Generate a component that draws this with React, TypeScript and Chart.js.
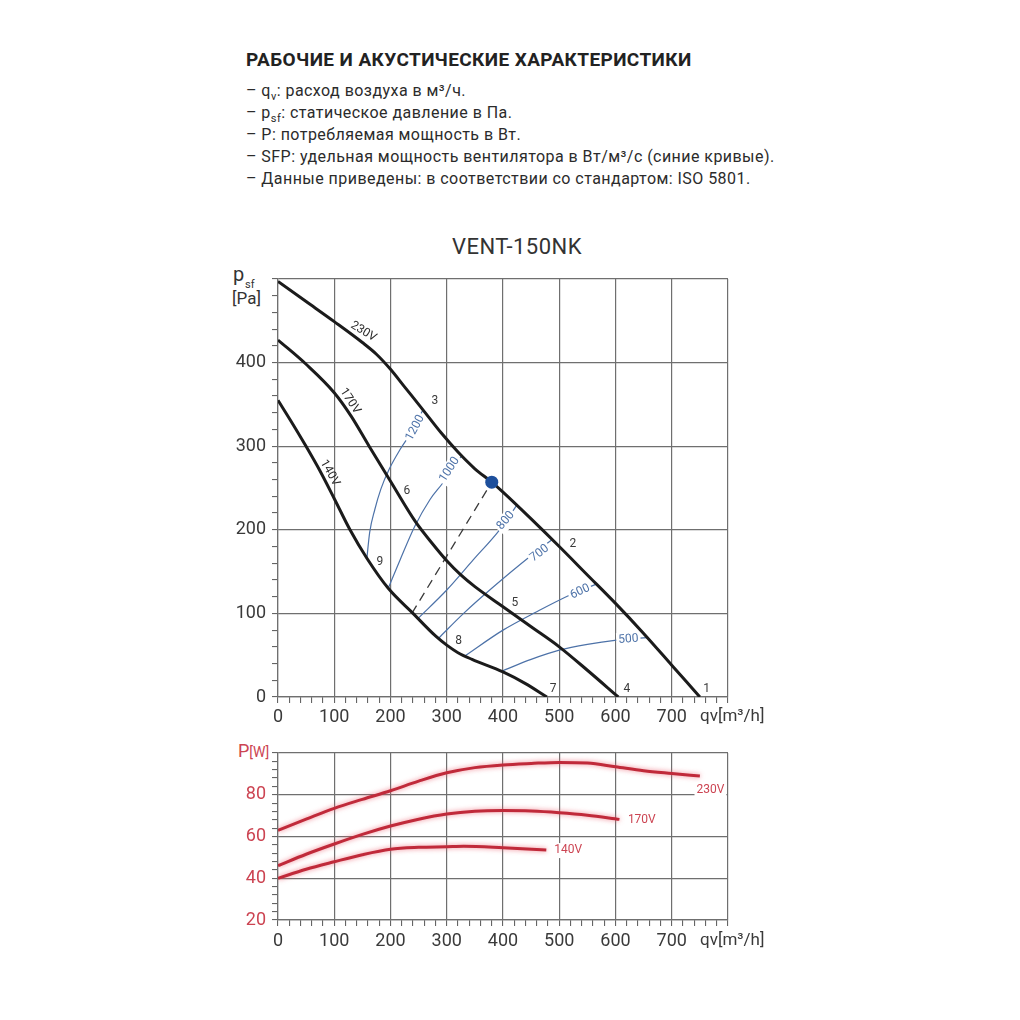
import React, { useEffect, useRef } from "react";
import { Chart, registerables } from "chart.js";

Chart.register(...registerables);

const FONT = "Roboto, 'Noto Sans', 'DejaVu Sans', sans-serif";

// ---------- Top chart: static pressure p_sf [Pa] vs airflow q_v [m³/h] ----------
const q230 = [0, 50, 100, 150, 175, 200, 225, 256, 290, 320, 350, 380, 400, 450, 500, 550, 600, 650, 700, 750];
const ps230 = [497, 473, 449, 424, 410, 392, 371, 345, 316, 293, 273, 257, 245, 213, 180, 146, 112, 76, 38, 0];
const q170 = [0, 50, 100, 130, 162, 200, 244, 275, 300, 325, 350, 400, 450, 500, 550, 605];
const ps170 = [427, 398, 364, 336, 300, 258, 210, 183, 163, 146, 132, 108, 84, 60, 32, 0];
const q140 = [0, 24, 48, 75, 101, 128, 158, 196, 240, 280, 300, 320, 345, 400, 440, 478];
const ps140 = [355, 329, 302, 270, 236, 200, 166, 130, 100, 73, 62, 53, 45, 30, 16, 0];

// SFP iso-lines (blue), W/(m³/s)
const sfp1200Q = [158, 163, 172, 183, 198, 217, 238, 258];
const sfp1200P = [166, 197, 224, 249, 273, 296, 318, 344];
const sfp1000Q = [196, 217, 243, 270, 293, 326];
const sfp1000P = [130, 164, 204, 236, 256, 288];
const sfp800Q = [249, 300, 347, 394, 424];
const sfp800P = [94, 128, 164, 200, 229];
const sfp700Q = [285, 330, 380, 448, 487];
const sfp700P = [70, 100, 130, 168, 188];
const sfp600Q = [332, 400, 460, 519, 566];
const sfp600P = [49, 80, 102, 122, 135];
const sfp500Q = [398, 450, 500, 550, 602, 657];
const sfp500P = [31, 45, 56, 63, 68, 71];

// duty point and its dashed system line
const dutyQ = [380];
const dutyP = [257];
const dashQ = [238, 380];
const dashP = [100, 257];

// tick labels
const flowTickLabels = ["0", "100", "200", "300", "400", "500", "600", "700"];
const flowAxisTitle = "qv[m³/h]";
const pressureTickLabels = ["0", "100", "200", "300", "400"];

// ---------- Bottom chart: power P [W] ----------
const qP230 = [0, 50, 100, 150, 200, 250, 300, 350, 400, 450, 500, 550, 600, 650, 700, 750];
const pw230 = [63, 68.3, 73.5, 77.8, 81.9, 86.5, 90.5, 93, 94.3, 95, 95.5, 95.2, 93.4, 91.5, 90.2, 89];
const qP170 = [0, 50, 100, 150, 200, 250, 300, 350, 400, 450, 500, 550, 607];
const pw170 = [46, 51.5, 56.4, 61, 65, 68.3, 70.8, 72.1, 72.4, 72.2, 71.4, 70.2, 68.2];
const qP140 = [0, 50, 100, 150, 200, 250, 300, 330, 400, 477];
const pw140 = [40, 44.3, 47.9, 51.3, 53.9, 54.8, 55.1, 55.3, 54.6, 53.5];
const powerTickLabels = ["20", "40", "60", "80"];

// ---------- annotations (data units) ----------
type Label = { text: string; x: number; y: number; rot?: number };
const curveLabels: Label[] = [
  { text: "230V", x: 152, y: 437, rot: 31 },
  { text: "170V", x: 128, y: 354, rot: 57 },
  { text: "140V", x: 92, y: 268, rot: 61 },
];
const curveNumbers: Label[] = [
  { text: "3", x: 279, y: 354 },
  { text: "2", x: 524, y: 183 },
  { text: "1", x: 762, y: 10 },
  { text: "6", x: 229, y: 247 },
  { text: "5", x: 421, y: 112 },
  { text: "4", x: 620, y: 10 },
  { text: "9", x: 181, y: 162 },
  { text: "8", x: 321, y: 67 },
  { text: "7", x: 489, y: 10 },
];
const sfpLabels: Label[] = [
  { text: "1200", x: 244, y: 322, rot: -62 },
  { text: "1000", x: 305, y: 272, rot: -57 },
  { text: "800", x: 405, y: 211, rot: -50 },
  { text: "700", x: 465, y: 172, rot: -37 },
  { text: "600", x: 537, y: 126, rot: -25 },
  { text: "500", x: 623, y: 69, rot: -4 },
];
const powerLabels: Label[] = [
  { text: "230V", x: 744, y: 82.4 },
  { text: "170V", x: 622, y: 67.9 },
  { text: "140V", x: 491, y: 53.5 },
];

const pts = (xs: number[], ys: number[]) => xs.map((x, i) => ({ x, y: ys[i] }));

const GRID = "#6f6f6f";
const BLACK = "#1b1b1b";
const BLUE = "#4d72a8";
const RED = "#c02a3a";
const RED_TEXT = "#cc4452";

function drawLabel(
  chart: any,
  l: Label,
  o: { size: number; color: string; align?: CanvasTextAlign; bg?: boolean }
) {
  const ctx = chart.ctx as CanvasRenderingContext2D;
  const px = chart.scales.x.getPixelForValue(l.x);
  const py = chart.scales.y.getPixelForValue(l.y);
  ctx.save();
  ctx.translate(px, py);
  ctx.rotate(((l.rot || 0) * Math.PI) / 180);
  ctx.font = `${o.size}px ${FONT}`;
  ctx.textAlign = o.align || "center";
  ctx.textBaseline = "middle";
  if (o.bg) {
    const w = ctx.measureText(l.text).width;
    const x0 = o.align === "left" ? -2 : -w / 2 - 2;
    ctx.fillStyle = "#ffffff";
    ctx.fillRect(x0, -o.size / 2 - 1, w + 4, o.size + 3);
  }
  ctx.fillStyle = o.color;
  ctx.fillText(l.text, 0, 0);
  ctx.restore();
}

function gridOpts(major: number) {
  return {
    color: (c: any) =>
      Math.abs(Math.round(c.tick.value) % major) === 0 ? GRID : "rgba(0,0,0,0)",
    lineWidth: 1.2,
    tickColor: "#555",
    tickLength: 6,
    tickWidth: 1,
    drawTicks: true,
  };
}

function flowAxis(height: number, padding: number) {
  return {
    type: "linear",
    min: 0,
    max: 800,
    grid: gridOpts(100),
    border: { display: true, color: GRID, width: 1.2 },
    ticks: {
      stepSize: 20,
      autoSkip: false,
      maxRotation: 0,
      minRotation: 0,
      padding,
      color: "#3a3a3a",
      font: (c: any) => ({ family: FONT, size: c.tick && c.tick.value === 800 ? 17 : 18 }),
      callback: (v: number) => {
        if (v === 800) return "  " + flowAxisTitle;
        if (v % 100 === 0) return flowTickLabels[v / 100] ?? "";
        return "";
      },
    },
    afterFit: (s: any) => {
      s.height = height;
      s.paddingLeft = 0;
      s.paddingRight = 0;
    },
  };
}

const topPlugin = {
  id: "topLabels",
  beforeDatasetDraw(chart: any, args: any) {
    const ds = chart.data.datasets[args.index];
    if (ds.label === "duty-line") {
      sfpLabels.forEach((l) => drawLabel(chart, l, { size: 12, color: BLUE, bg: true }));
    }
  },
  afterDatasetsDraw(chart: any) {
    curveLabels.forEach((l) => drawLabel(chart, l, { size: 12, color: "#2a2a2a" }));
    curveNumbers.forEach((l) => drawLabel(chart, l, { size: 12, color: "#3a3a3a" }));
  },
};

const bottomPlugin = {
  id: "bottomLabels",
  beforeDatasetDraw(chart: any) {
    const ctx = chart.ctx;
    ctx.save();
    ctx.shadowColor = "rgba(235,90,105,0.75)";
    ctx.shadowBlur = 5;
  },
  afterDatasetDraw(chart: any) {
    chart.ctx.restore();
  },
  afterDatasetsDraw(chart: any) {
    powerLabels.forEach((l) =>
      drawLabel(chart, l, { size: 12, color: RED_TEXT, align: "left", bg: true })
    );
  },
};

function TopChart() {
  const ref = useRef<HTMLCanvasElement | null>(null);
  useEffect(() => {
    if (!ref.current) return;
    const blue = (label: string, q: number[], p: number[]) => ({
      label,
      data: pts(q, p),
      borderColor: BLUE,
      borderWidth: 1.2,
      pointRadius: 0,
      cubicInterpolationMode: "monotone",
      order: 3,
    });
    const black = (label: string, q: number[], p: number[]) => ({
      label,
      data: pts(q, p),
      borderColor: BLACK,
      borderWidth: 3,
      pointRadius: 0,
      cubicInterpolationMode: "monotone",
      order: 1,
    });
    const chart = new Chart(ref.current, {
      type: "line",
      data: {
        datasets: [
          blue("1200", sfp1200Q, sfp1200P),
          blue("1000", sfp1000Q, sfp1000P),
          blue("800", sfp800Q, sfp800P),
          blue("700", sfp700Q, sfp700P),
          blue("600", sfp600Q, sfp600P),
          blue("500", sfp500Q, sfp500P),
          {
            label: "duty-line",
            data: pts(dashQ, dashP),
            borderColor: "#3a3a3a",
            borderWidth: 1.3,
            borderDash: [9, 6],
            pointRadius: 0,
            order: 2,
          },
          black("230V", q230, ps230),
          black("170V", q170, ps170),
          black("140V", q140, ps140),
          {
            label: "duty",
            data: pts(dutyQ, dutyP),
            showLine: false,
            pointRadius: 6.5,
            pointBackgroundColor: "#1d4f9c",
            pointBorderWidth: 0,
            order: 0,
          },
        ] as any,
      },
      options: {
        responsive: false,
        animation: false,
        layout: { padding: { top: 19, right: 82, left: 0, bottom: 0 } },
        plugins: { legend: { display: false }, tooltip: { enabled: false } },
        scales: {
          x: flowAxis(43, 4) as any,
          y: {
            type: "linear",
            min: 0,
            max: 500,
            grid: gridOpts(100),
            border: { display: true, color: GRID, width: 1.2 },
            ticks: {
              stepSize: 20,
              autoSkip: false,
              padding: 6,
              color: "#3a3a3a",
              font: { family: FONT, size: 18 },
              callback: (v: number) =>
                v % 100 === 0 ? pressureTickLabels[v / 100] ?? "" : "",
            },
            afterFit: (s: any) => {
              s.width = 88;
              s.paddingTop = 0;
              s.paddingBottom = 0;
            },
          } as any,
        },
      },
      plugins: [topPlugin],
    } as any);
    return () => chart.destroy();
  }, []);
  return (
    <canvas
      ref={ref}
      width={620}
      height={480}
      style={{ position: "absolute", left: 190, top: 260, width: 620, height: 480 }}
    />
  );
}

function BottomChart() {
  const ref = useRef<HTMLCanvasElement | null>(null);
  useEffect(() => {
    if (!ref.current) return;
    const red = (label: string, q: number[], p: number[]) => ({
      label,
      data: pts(q, p),
      borderColor: RED,
      borderWidth: 3,
      pointRadius: 0,
      cubicInterpolationMode: "monotone",
    });
    const chart = new Chart(ref.current, {
      type: "line",
      data: {
        datasets: [
          red("230V", qP230, pw230),
          red("170V", qP170, pw170),
          red("140V", qP140, pw140),
        ] as any,
      },
      options: {
        responsive: false,
        animation: false,
        layout: { padding: { top: 8, right: 82, left: 0, bottom: 0 } },
        plugins: { legend: { display: false }, tooltip: { enabled: false } },
        scales: {
          x: flowAxis(40, 5) as any,
          y: {
            type: "linear",
            min: 20,
            max: 100,
            grid: gridOpts(20),
            border: { display: true, color: GRID, width: 1.2 },
            ticks: {
              stepSize: 4,
              autoSkip: false,
              padding: 6,
              color: RED_TEXT,
              font: { family: FONT, size: 18 },
              callback: (v: number) =>
                v % 20 === 0 && v < 100 ? powerTickLabels[(v - 20) / 20] ?? "" : "",
            },
            afterFit: (s: any) => {
              s.width = 88;
              s.paddingTop = 0;
              s.paddingBottom = 0;
            },
          } as any,
        },
      },
      plugins: [bottomPlugin],
    } as any);
    return () => chart.destroy();
  }, []);
  return (
    <canvas
      ref={ref}
      width={620}
      height={215}
      style={{ position: "absolute", left: 190, top: 745, width: 620, height: 215 }}
    />
  );
}

const bodyLine: React.CSSProperties = {
  position: "absolute",
  left: 246,
  fontFamily: FONT,
  fontSize: 16,
  lineHeight: "22px",
  letterSpacing: "0.45px",
  color: "#2b2b2b",
  whiteSpace: "nowrap",
};
const sub: React.CSSProperties = { fontSize: 11, verticalAlign: "-4px" };

export default function App() {
  return (
    <div
      style={{
        position: "absolute",
        left: 0,
        top: 0,
        width: 1020,
        height: 1020,
        background: "#ffffff",
        overflow: "hidden",
      }}
    >
      <div
        style={{
          position: "absolute",
          left: 246,
          top: 50,
          fontFamily: FONT,
          fontWeight: 700,
          fontSize: 19,
          lineHeight: "20px",
          letterSpacing: "0.4px",
          color: "#222",
          whiteSpace: "nowrap",
        }}
      >
        РАБОЧИЕ И АКУСТИЧЕСКИЕ ХАРАКТЕРИСТИКИ
      </div>
      <div style={{ ...bodyLine, top: 80 }}>
        – q<span style={sub}>v</span>: расход воздуха в м³/ч.
      </div>
      <div style={{ ...bodyLine, top: 102 }}>
        – p<span style={sub}>sf</span>: статическое давление в Па.
      </div>
      <div style={{ ...bodyLine, top: 124 }}>– P: потребляемая мощность в Вт.</div>
      <div style={{ ...bodyLine, top: 146 }}>
        – SFP: удельная мощность вентилятора в Вт/м³/с (синие кривые).
      </div>
      <div style={{ ...bodyLine, top: 168 }}>
        – Данные приведены: в соответствии со стандартом: ISO 5801.
      </div>

      <div
        style={{
          position: "absolute",
          left: 517,
          top: 234,
          transform: "translateX(-50%)",
          fontFamily: FONT,
          fontSize: 22,
          lineHeight: "26px",
          letterSpacing: "0.5px",
          color: "#333",
          whiteSpace: "nowrap",
        }}
      >
        VENT-150NK
      </div>

      <span
        style={{
          position: "absolute",
          left: 233,
          top: 264,
          fontFamily: FONT,
          fontSize: 20,
          lineHeight: "20px",
          color: "#333",
        }}
      >
        p
      </span>
      <span
        style={{
          position: "absolute",
          left: 245,
          top: 279,
          fontFamily: FONT,
          fontSize: 11,
          lineHeight: "11px",
          color: "#333",
        }}
      >
        sf
      </span>
      <span
        style={{
          position: "absolute",
          left: 232,
          top: 290,
          fontFamily: FONT,
          fontSize: 17,
          lineHeight: "17px",
          color: "#333",
        }}
      >
        [Pa]
      </span>

      <span
        style={{
          position: "absolute",
          left: 238,
          top: 742,
          fontFamily: FONT,
          fontSize: 18,
          lineHeight: "18px",
          color: RED_TEXT,
          whiteSpace: "nowrap",
        }}
      >
        P<span style={{ fontSize: 14 }}>[W]</span>
      </span>

      <TopChart />
      <BottomChart />
    </div>
  );
}
